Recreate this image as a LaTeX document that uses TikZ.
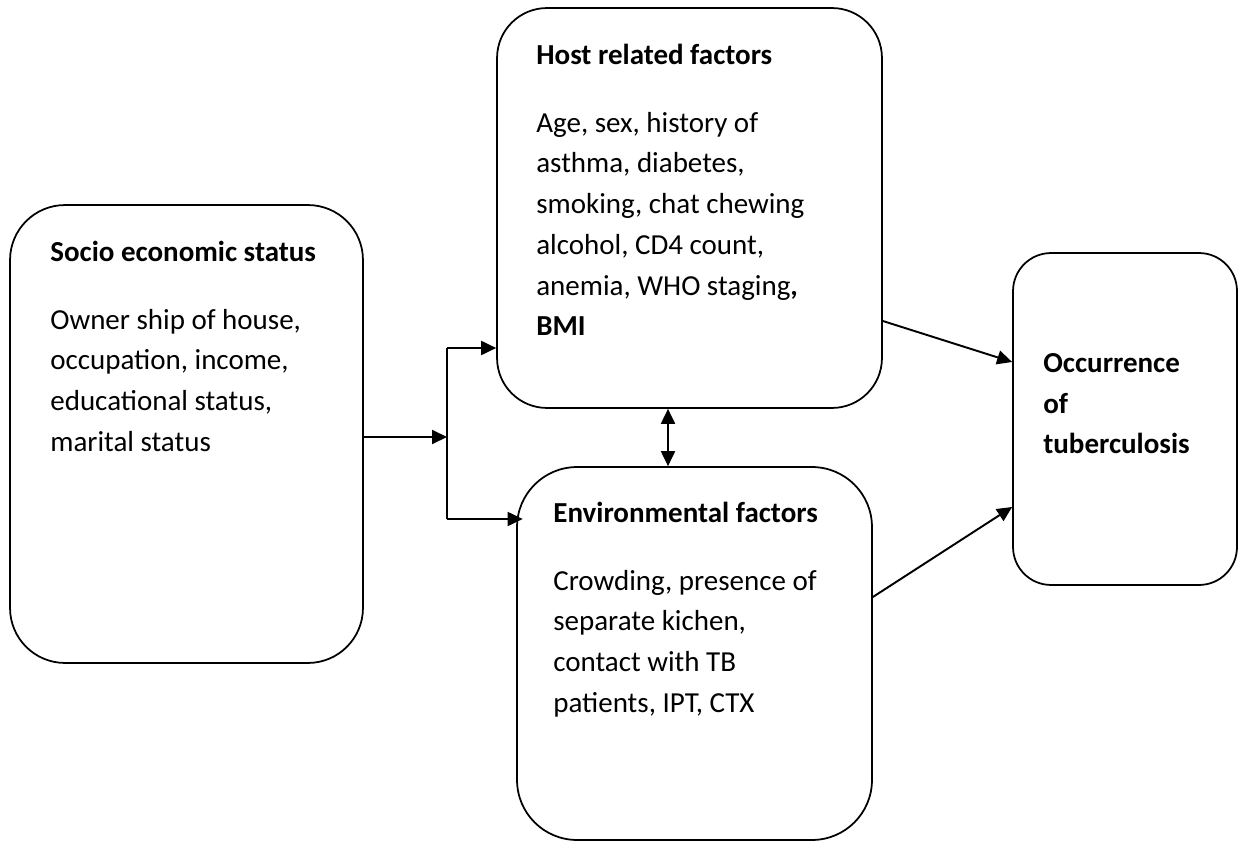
\documentclass[tikz,border=0pt]{standalone}
\usepackage{fontspec}
\setmainfont{Carlito}
\usetikzlibrary{arrows.meta}

\tikzset{
  factor/.style={draw, line width=1pt, inner sep=0pt},
  boxtext/.style={anchor=north west, inner sep=0pt, align=left,
                  font=\fontsize{16.5}{23.2}\selectfont},
  arr/.style={line width=1.1pt, -{Triangle[length=0.3cm,width=0.28cm]}},
  dblarr/.style={line width=1.1pt, {Triangle[length=0.3cm,width=0.28cm]}-{Triangle[length=0.3cm,width=0.28cm]}}
}

\begin{document}
\begin{tikzpicture}[x=0.02cm, y=-0.02cm]
            \useasboundingbox (0,0) rectangle (1243,844);

            % boxes
            \node[factor, rounded corners=1.1cm, minimum width=7.06cm, minimum height=9.16cm] (socio) at (186.5,434) {};
            \node[factor, rounded corners=1cm, minimum width=7.7cm, minimum height=8cm] (host) at (689.5,208) {};
            \node[factor, rounded corners=1.2cm, minimum width=7.1cm, minimum height=7.46cm] (env) at (694.5,653.5) {};
            \node[factor, rounded corners=0.76cm, minimum width=4.48cm, minimum height=6.64cm] (tb) at (1125,419) {};

            % texts
            \node[boxtext] (sociotext) at (50,232.4)
                {\strut\textbf{Socio economic status}\\[0.54cm]
                 Owner ship of house,\\ occupation, income,\\ educational status,\\ marital status};
            \node[boxtext] (hosttext) at (536,35.4)
                {\strut\textbf{Host related factors}\\[0.54cm]
                 Age, sex, history of\\ asthma, diabetes,\\ smoking, chat chewing\\
                 alcohol, CD4 count,\\ anemia, WHO staging\textbf{,}\\ \textbf{BMI}};
            \node[boxtext] (envtext) at (553,493.4)
                {\strut\textbf{Environmental factors}\\[0.54cm]
                 Crowding, presence of\\ separate kichen,\\ contact with TB\\ patients, IPT, CTX};
            \node[boxtext, font=\fontsize{16.5}{23.2}\selectfont\bfseries] (tbtext) at (1043,343.4)
                {\strut Occurrence\\ of\\ tuberculosis};

            % arrows
            \coordinate (split) at (447,437);
            \coordinate (up) at (447,348);
            \coordinate (down) at (447,519);
            \draw[arr] (socio.east |- split) -- (split);
            \draw[line width=1.1pt] (up) -- (down);
            \draw[arr] (up) -- (host.west |- up);
            \draw[arr] (down) -- ([xshift=0.13cm]env.west |- down);
            \draw[dblarr] (host.south -| 668,0) -- (env.north -| 668,0);
            \draw[arr] (host.east |- 0,321) -- (tb.west |- 0,362);
            \draw[arr] (env.east |- 0,597) -- (tb.west |- 0,507);
\end{tikzpicture}
\end{document}
